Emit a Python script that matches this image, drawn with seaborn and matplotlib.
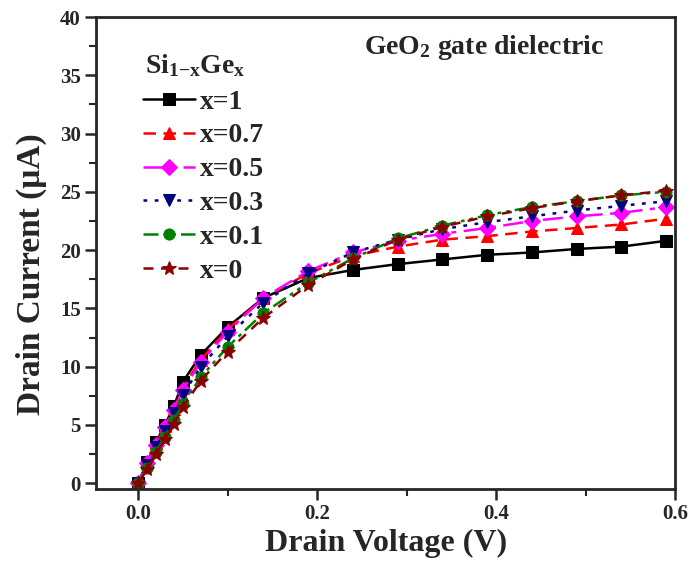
import numpy as np
import pandas as pd
import matplotlib
matplotlib.use("Agg")
import matplotlib.pyplot as plt
import seaborn as sns
from matplotlib.ticker import MultipleLocator

# drain voltage (V), shared by all curves
vd = [0, 0.01, 0.02, 0.03, 0.04, 0.05, 0.07, 0.1, 0.14, 0.19,
      0.24, 0.29, 0.34, 0.39, 0.44, 0.49, 0.54, 0.59]

# drain current (uA) for each Ge fraction
id_x1 = [0, 1.8, 3.5, 5.0, 6.6, 8.7, 11.0, 13.4, 15.9, 17.6,
         18.3, 18.8, 19.2, 19.6, 19.8, 20.1, 20.3, 20.8]
id_x07 = [0, 1.7, 3.4, 4.9, 6.4, 8.2, 10.6, 13.2, 15.9, 18.0,
          19.5, 20.3, 20.9, 21.2, 21.6, 21.9, 22.2, 22.7]
id_x05 = [0, 1.7, 3.3, 4.8, 6.3, 8.0, 10.4, 13.0, 15.9, 18.2,
          19.8, 20.8, 21.4, 21.9, 22.5, 22.9, 23.2, 23.7]
id_x03 = [0, 1.6, 3.1, 4.5, 6.0, 7.6, 10.0, 12.6, 15.5, 18.0,
          19.8, 20.9, 21.8, 22.4, 22.9, 23.4, 23.8, 24.2]
id_x01 = [0, 1.3, 2.7, 4.0, 5.4, 6.8, 9.1, 11.7, 14.6, 17.2,
          19.3, 21.0, 22.1, 23.0, 23.7, 24.2, 24.7, 25.0]
id_x0 = [0, 1.2, 2.5, 3.8, 5.1, 6.5, 8.8, 11.3, 14.2, 17.0,
         19.2, 20.9, 22.0, 22.9, 23.6, 24.2, 24.7, 25.1]

labels = ["x=1", "x=0.7", "x=0.5", "x=0.3", "x=0.1", "x=0"]
currents = [id_x1, id_x07, id_x05, id_x03, id_x01, id_x0]

# style per curve: colour, linestyle, marker
styles = [
    ("black", "-", "s"),
    ("red", (0, (5, 3)), "^"),
    ("magenta", (0, (8, 3, 2, 3)), "D"),
    ("navy", (0, (1.5, 3)), "v"),
    ("green", (0, (6, 2, 1.5, 2, 1.5, 2)), "o"),
    ("darkred", (0, (4, 3)), "*"),
]

sns.set_style("ticks")
plt.rcParams["font.family"] = ["Liberation Serif", "DejaVu Serif"]
plt.rcParams["font.weight"] = "bold"
plt.rcParams["mathtext.fontset"] = "custom"
plt.rcParams["mathtext.rm"] = "Liberation Serif:bold"
plt.rcParams["mathtext.bf"] = "Liberation Serif:bold"
plt.rcParams["mathtext.it"] = "Liberation Serif:bold"

fig = plt.figure(figsize=(6.91, 5.68), dpi=100)
ax = fig.add_axes([0.139, 0.139, 0.838, 0.831])

for lab, cur, (col, ls, mk) in zip(labels, currents, styles):
    df = pd.DataFrame({"Vd": vd, "Id": cur})
    sns.lineplot(data=df, x="Vd", y="Id", ax=ax, color=col, linestyle=ls,
                 linewidth=1.8, marker=mk,
                 markersize=10 if mk == "*" else 8,
                 markeredgecolor=col, label=lab)

ax.set_xlim(-0.047, 0.6)
ax.set_ylim(-0.5, 40)
ax.xaxis.set_major_locator(MultipleLocator(0.2))
ax.xaxis.set_minor_locator(MultipleLocator(0.1))
ax.yaxis.set_major_locator(MultipleLocator(5))
ax.yaxis.set_minor_locator(MultipleLocator(2.5))
ax.xaxis.set_major_formatter(matplotlib.ticker.FormatStrFormatter("%.1f"))

ax.tick_params(which="major", direction="out", length=8, width=1.8,
               labelsize=15, pad=3)
ax.tick_params(which="minor", direction="out", length=5, width=1.5)
for tl in ax.get_xticklabels() + ax.get_yticklabels():
    tl.set_fontweight("bold")
for sp in ax.spines.values():
    sp.set_visible(True)
    sp.set_linewidth(2)

ax.set_xlabel("Drain Voltage (V)", fontsize=23, fontweight="bold", labelpad=3)
ax.set_ylabel("Drain Current (\u03bcA)", fontsize=24, fontweight="bold")
ax.yaxis.set_label_coords(-0.085, 0.455)

leg = ax.legend(loc="upper left", bbox_to_anchor=(0.081, 0.847),
                frameon=False, borderpad=0, borderaxespad=0,
                handlelength=1.87, handletextpad=0.18, labelspacing=0.30,
                prop={"weight": "bold", "size": 20})

# legend heading and annotation
ax.text(0.085, 0.881, r"Si$_\mathbf{1{-}x}$Ge$_\mathbf{x}$", fontsize=20,
        fontweight="bold", transform=ax.transAxes, va="baseline")
ax.text(0.2525, 36.8, r"GeO$_\mathbf{2}$ gate dielectric", fontsize=20,
        fontweight="bold", va="baseline")

fig.savefig("out.png", dpi=100)
